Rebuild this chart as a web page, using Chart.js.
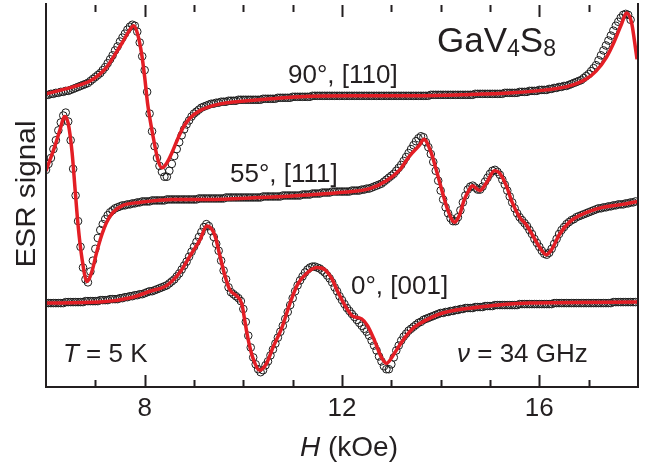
<!DOCTYPE html>
<html>
<head>
<meta charset="utf-8">
<script src="https://cdn.jsdelivr.net/npm/chart.js@4.4.1/dist/chart.umd.min.js"></script>
<style>
  html, body { margin: 0; padding: 0; background: #fff; }
  #wrap { width: 660px; height: 468px; }
</style>
</head>
<body>
<div id="wrap"><canvas id="esr" width="660" height="468"></canvas></div>
<script>
// field H (kOe) of the measured points, shared by the three spectra
const field = [
  6.0, 6.05, 6.1, 6.15, 6.2, 6.25, 6.3, 6.35, 6.4, 6.45,
  6.5, 6.55, 6.6, 6.65, 6.7, 6.75, 6.8, 6.85, 6.9, 6.95,
  7.0, 7.05, 7.1, 7.15, 7.2, 7.25, 7.3, 7.35, 7.4, 7.45,
  7.5, 7.55, 7.6, 7.65, 7.7, 7.75, 7.8, 7.85, 7.9, 7.95,
  8.0, 8.05, 8.1, 8.15, 8.2, 8.25, 8.3, 8.35, 8.4, 8.45,
  8.5, 8.55, 8.6, 8.65, 8.7, 8.75, 8.8, 8.85, 8.9, 8.95,
  9.0, 9.05, 9.1, 9.15, 9.2, 9.25, 9.3, 9.35, 9.4, 9.45,
  9.5, 9.55, 9.6, 9.65, 9.7, 9.75, 9.8, 9.85, 9.9, 9.95,
  10.0, 10.05, 10.1, 10.15, 10.2, 10.25, 10.3, 10.35, 10.4, 10.45,
  10.5, 10.55, 10.6, 10.65, 10.7, 10.75, 10.8, 10.85, 10.9, 10.95,
  11.0, 11.05, 11.1, 11.15, 11.2, 11.25, 11.3, 11.35, 11.4, 11.45,
  11.5, 11.55, 11.6, 11.65, 11.7, 11.75, 11.8, 11.85, 11.9, 11.95,
  12.0, 12.05, 12.1, 12.15, 12.2, 12.25, 12.3, 12.35, 12.4, 12.45,
  12.5, 12.55, 12.6, 12.65, 12.7, 12.75, 12.8, 12.85, 12.9, 12.95,
  13.0, 13.05, 13.1, 13.15, 13.2, 13.25, 13.3, 13.35, 13.4, 13.45,
  13.5, 13.55, 13.6, 13.65, 13.7, 13.75, 13.8, 13.85, 13.9, 13.95,
  14.0, 14.05, 14.1, 14.15, 14.2, 14.25, 14.3, 14.35, 14.4, 14.45,
  14.5, 14.55, 14.6, 14.65, 14.7, 14.75, 14.8, 14.85, 14.9, 14.95,
  15.0, 15.05, 15.1, 15.15, 15.2, 15.25, 15.3, 15.35, 15.4, 15.45,
  15.5, 15.55, 15.6, 15.65, 15.7, 15.75, 15.8, 15.85, 15.9, 15.95,
  16.0, 16.05, 16.1, 16.15, 16.2, 16.25, 16.3, 16.35, 16.4, 16.45,
  16.5, 16.55, 16.6, 16.65, 16.7, 16.75, 16.8, 16.85, 16.9, 16.95,
  17.0, 17.05, 17.1, 17.15, 17.2, 17.25, 17.3, 17.35, 17.4, 17.45,
  17.5, 17.55, 17.6, 17.65, 17.7, 17.75, 17.8, 17.85, 17.9, 17.95
];

// ESR signal, arb. units (spectra stacked with offsets)
// 90°, [110]
const esr90 = [
  296, 296, 297, 297, 298, 298, 299, 299, 300, 300,
  301, 302, 303, 304, 305, 306, 307, 308, 310, 312,
  314, 316, 318, 321, 324, 328, 332, 336, 341, 345,
  350, 354, 358, 362, 365, 367, 366, 360, 349, 335,
  321, 299, 277, 259, 244, 232, 224, 218, 213, 213,
  219, 226, 234, 241, 248, 255, 261, 266, 270, 274,
  277, 279, 281, 283, 284, 285, 286, 287, 287, 288,
  288, 289, 289, 289, 290, 290, 290, 290, 291, 291,
  291, 291, 291, 291, 291, 291, 291, 291, 292, 292,
  292, 292, 292, 292, 293, 293, 293, 293, 293, 293,
  294, 294, 294, 294, 294, 294, 294, 294, 295, 295,
  295, 295, 295, 295, 295, 295, 295, 295, 295, 295,
  295, 295, 295, 295, 295, 295, 295, 295, 295, 295,
  295, 295, 295, 295, 295, 295, 295, 295, 295, 295,
  295, 295, 295, 295, 295, 295, 295, 295, 295, 295,
  295, 295, 295, 295, 295, 295, 296, 296, 296, 296,
  296, 296, 296, 296, 296, 296, 296, 296, 296, 296,
  296, 296, 296, 296, 297, 297, 297, 297, 297, 297,
  297, 297, 297, 297, 297, 297, 298, 298, 298, 298,
  298, 298, 299, 299, 299, 299, 300, 300, 300, 300,
  301, 301, 301, 301, 302, 302, 303, 303, 304, 304,
  305, 305, 306, 307, 308, 309, 310, 311, 313, 315,
  317, 320, 323, 326, 331, 336, 341, 346, 351, 356,
  361, 366, 370, 374, 377, 378, 377, 372, null, null
];
// 55°, [111]
const esr55 = [
  220, 226, 232, 241, 250, 260, 268, 275, 278, 269,
  250, 221, 194, 168, 142, 121, 109, 106, 117, 128,
  140, 151, 159, 165, 170, 174, 177, 179, 181, 182,
  183, 184, 184, 185, 185, 186, 186, 187, 187, 188,
  188, 188, 188, 189, 189, 189, 189, 189, 189, 190,
  190, 190, 190, 190, 190, 190, 190, 190, 190, 190,
  190, 190, 191, 191, 191, 191, 191, 191, 191, 191,
  191, 191, 191, 192, 192, 192, 192, 192, 192, 192,
  192, 192, 192, 192, 192, 192, 192, 192, 193, 193,
  193, 193, 193, 193, 193, 193, 194, 194, 194, 194,
  194, 194, 194, 194, 195, 195, 195, 195, 196, 196,
  196, 196, 197, 197, 197, 197, 198, 198, 198, 198,
  198, 198, 198, 198, 199, 199, 199, 199, 200, 200,
  201, 201, 202, 203, 204, 205, 206, 208, 210, 212,
  214, 216, 219, 222, 225, 229, 233, 237, 241, 245,
  249, 252, 254, 253, 248, 243, 236, 228, 219, 209,
  199, 190, 182, 176, 171, 168, 168, 172, 179, 187,
  194, 200, 203, 204, 202, 200, 200, 203, 208, 212,
  216, 219, 220, 218, 215, 210, 205, 199, 193, 187,
  181, 176, 172, 169, 166, 163, 159, 155, 150, 146,
  142, 138, 135, 134, 136, 140, 145, 150, 155, 159,
  162, 165, 167, 169, 170, 172, 173, 174, 175, 176,
  177, 178, 179, 180, 181, 181, 182, 182, 183, 183,
  184, 184, 185, 185, 185, 186, 186, 187, 187, 188
];
// 0°, [001]
const esr0 = [
  85, 85, 85, 85, 85, 85, 85, 85, 86, 86,
  86, 86, 86, 86, 86, 86, 87, 87, 87, 87,
  87, 87, 88, 88, 88, 88, 89, 89, 89, 89,
  90, 90, 91, 91, 92, 92, 93, 93, 94, 94,
  95, 96, 97, 97, 98, 99, 100, 101, 102, 103,
  105, 107, 109, 112, 115, 119, 123, 127, 132, 137,
  142, 147, 152, 157, 162, 165, 163, 158, 152, 145,
  138, 128, 118, 109, 101, 96, 94, 92, 90, 87,
  79, 66, 52, 40, 30, 23, 18, 15, 17, 22,
  26, 32, 38, 44, 50, 56, 62, 69, 76, 83,
  90, 97, 103, 108, 112, 116, 119, 121, 122, 122,
  121, 120, 118, 116, 113, 110, 106, 101, 97, 92,
  88, 84, 80, 77, 74, 71, 68, 65, 62, 59,
  56, 52, 47, 42, 37, 31, 26, 21, 18, 18,
  23, 30, 37, 42, 47, 51, 54, 57, 59, 61,
  63, 65, 66, 68, 69, 70, 71, 72, 73, 74,
  75, 75, 76, 76, 77, 77, 78, 78, 79, 79,
  80, 80, 80, 80, 81, 81, 81, 81, 82, 82,
  82, 82, 83, 83, 83, 83, 83, 83, 83, 83,
  83, 83, 84, 84, 84, 84, 84, 84, 84, 84,
  84, 84, 84, 84, 84, 84, 85, 85, 85, 85,
  85, 85, 85, 85, 85, 85, 85, 85, 85, 85,
  85, 85, 85, 85, 85, 85, 85, 85, 85, 85,
  86, 86, 86, 86, 86, 86, 86, 86, 86, 86
];

// fits (red lines): field values and signal
const fitH90 = [6.0, 6.55, 6.89, 7.09, 7.23, 7.4, 7.56, 7.7, 7.78, 7.86,
  7.94, 8.0, 8.06, 8.17, 8.27, 8.35, 8.45, 8.55, 8.65, 8.77,
  8.91, 9.12, 9.38, 9.66, 10.07, 10.33, 11.14, 12.15, 13.57, 14.44,
  15.45, 16.14, 16.61, 16.95, 17.15, 17.36, 17.52, 17.66, 17.77, 17.87,
  17.93, 17.98];
const fit90 = [297, 304, 310, 317, 324, 337, 350, 362, 366, 357,
  337, 314, 287, 254, 230, 222, 227, 237, 249, 262,
  272, 280, 285, 288, 290, 291, 294, 295, 295, 296,
  298, 301, 305, 312, 320, 334, 350, 367, 379, 369,
  350, 332];

const fitH55 = [6.0, 6.08, 6.18, 6.28, 6.38, 6.45, 6.53, 6.59, 6.65, 6.73,
  6.83, 6.93, 7.03, 7.13, 7.23, 7.36, 7.56, 7.9, 8.57, 9.26,
  10.33, 11.14, 11.95, 12.56, 12.9, 13.17, 13.37, 13.57, 13.66, 13.81,
  13.91, 14.02, 14.14, 14.28, 14.38, 14.48, 14.58, 14.64, 14.79, 14.93,
  15.09, 15.19, 15.33, 15.45, 15.6, 15.74, 15.86, 16.0, 16.14, 16.26,
  16.4, 16.61, 16.87, 17.28, 17.68, 17.98];
const fit55 = [219, 230, 244, 260, 274, 267, 237, 200, 164, 130,
  107, 117, 137, 154, 167, 177, 184, 187, 190, 190,
  192, 194, 197, 201, 209, 220, 234, 245, 251, 237,
  220, 200, 180, 167, 174, 190, 200, 204, 199, 207,
  219, 217, 204, 187, 172, 164, 154, 142, 134, 140,
  154, 167, 175, 182, 185, 188];

const fitH0 = [6.0, 7.09, 7.76, 8.11, 8.45, 8.71, 8.91, 9.12, 9.26, 9.42,
  9.52, 9.62, 9.72, 9.87, 9.97, 10.03, 10.09, 10.19, 10.33, 10.47,
  10.6, 10.78, 10.94, 11.1, 11.28, 11.49, 11.65, 11.79, 11.91, 12.09,
  12.21, 12.4, 12.52, 12.66, 12.8, 12.9, 13.06, 13.23, 13.43, 13.57,
  14.04, 14.79, 15.8, 17.98];
const fit0 = [85, 86, 91, 97, 103, 116, 132, 149, 163, 154,
  134, 114, 99, 92, 84, 67, 50, 30, 17, 24,
  40, 60, 84, 104, 115, 121, 119, 110, 97, 80,
  72, 69, 62, 47, 30, 24, 34, 47, 59, 64,
  75, 81, 85, 86];

// axis
const tickPositions = [7, 8, 9, 10, 11, 12, 13, 14, 15, 16, 17];
const tickLabels = [8, 12, 16];

const ink = '#231f20';
const red = '#e31e25';
const face = '"Liberation Sans", Arial, Helvetica, sans-serif';

function pts(hs, vs) {
  return hs.map((h, i) => ({ x: h, y: vs[i] })).filter(p => p.y !== null);
}

function measured(vs) {
  return {
    data: pts(field, vs),
    showLine: false,
    pointStyle: 'circle',
    pointRadius: 3.8,
    pointBorderWidth: 1,
    pointBorderColor: '#1b1b1b',
    pointBackgroundColor: 'rgba(0,0,0,0)',
    order: 1
  };
}

function fitted(hs, vs) {
  return {
    data: pts(hs, vs),
    borderColor: red,
    borderWidth: 3.5,
    pointRadius: 0,
    cubicInterpolationMode: 'monotone',
    fill: false,
    order: 0
  };
}

// text made of pieces with different fonts
function runs(ctx, x, y, parts) {
  parts.forEach(([txt, font, dy]) => {
    ctx.font = font;
    ctx.fillText(txt, x, y + (dy || 0));
    x += ctx.measureText(txt).width;
  });
}

const frame = {
  id: 'frame',
  afterDraw(chart) {
    const { ctx, chartArea: a } = chart;
    const x = chart.scales.x;
    ctx.save();
    ctx.strokeStyle = ink;
    ctx.lineWidth = 2;
    ctx.beginPath();
    ctx.moveTo(a.left, a.top - 2);
    ctx.lineTo(a.left, a.bottom);
    ctx.lineTo(a.right, a.bottom);
    ctx.lineTo(a.right, a.top - 2);
    ctx.stroke();

    // inward ticks on top and bottom
    ctx.beginPath();
    tickPositions.forEach(t => {
      const px = Math.round(x.getPixelForValue(t)) + 0.5;
      const len = tickLabels.includes(t) ? 12 : 7;
      ctx.moveTo(px, a.bottom);
      ctx.lineTo(px, a.bottom - len);
      ctx.moveTo(px, a.top);
      ctx.lineTo(px, a.top + len);
    });
    ctx.stroke();

    ctx.fillStyle = ink;
    ctx.textAlign = 'left';
    ctx.textBaseline = 'alphabetic';

    runs(ctx, 437, 52, [
      ['GaV', `35px ${face}`],
      ['4', `23px ${face}`, 4],
      ['S', `35px ${face}`],
      ['8', `23px ${face}`, 4]
    ]);
    ctx.font = `26px ${face}`;
    ctx.fillText('90°, [110]', 288, 83);
    ctx.fillText('55°, [111]', 230, 182);
    ctx.fillText('0°, [001]', 351, 294);
    runs(ctx, 63, 362, [['T', `italic 26px ${face}`], [' = 5 K', `26px ${face}`]]);
    runs(ctx, 457, 362, [['ν', `italic 26px ${face}`], [' = 34 GHz', `26px ${face}`]]);

    // axis titles
    runs(ctx, 300, 456, [['H', `italic 28px ${face}`], [' (kOe)', `28px ${face}`]]);
    ctx.save();
    ctx.translate(35, 194);
    ctx.rotate(-Math.PI / 2);
    ctx.font = `27px ${face}`;
    const w = ctx.measureText('ESR signal').width;
    ctx.scale(147 / w, 1);
    ctx.textAlign = 'center';
    ctx.fillText('ESR signal', 0, 0);
    ctx.restore();
    ctx.restore();
  }
};

new Chart(document.getElementById('esr'), {
  type: 'line',
  data: {
    datasets: [
      fitted(fitH90, fit90),
      fitted(fitH55, fit55),
      fitted(fitH0, fit0),
      measured(esr90),
      measured(esr55),
      measured(esr0)
    ]
  },
  options: {
    responsive: false,
    animation: false,
    layout: { padding: { left: 46, right: 22, top: 0, bottom: 0 } },
    plugins: { legend: { display: false }, tooltip: { enabled: false } },
    scales: {
      x: {
        type: 'linear',
        min: 6,
        max: 18,
        grid: { display: false, drawTicks: false },
        border: { display: false },
        ticks: {
          stepSize: 1,
          autoSkip: false,
          maxRotation: 0,
          padding: 6,
          color: ink,
          font: { family: face, size: 26 },
          callback: v => tickLabels.includes(v) ? String(v) : ''
        },
        afterFit: s => { s.height = 81; }
      },
      y: {
        display: false,
        min: 0,
        max: 387
      }
    }
  },
  plugins: [frame]
});
</script>
</body>
</html>
